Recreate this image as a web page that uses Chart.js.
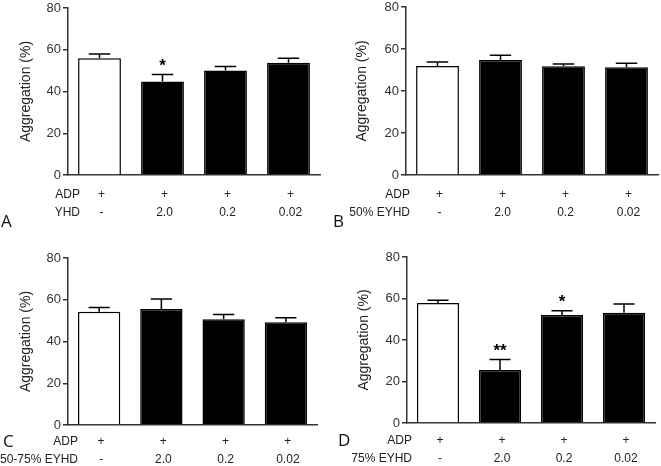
<!DOCTYPE html>
<html>
<head>
<meta charset="utf-8">
<script src="https://cdn.jsdelivr.net/npm/chart.js@4"></script>
<style>
  html, body { margin: 0; padding: 0; background: #fff; }
  #wrap { position: relative; width: 661px; height: 466px; }
  #wrap canvas { position: absolute; }
</style>
</head>
<body>
<div id="wrap">
  <canvas id="cA" width="330" height="233" style="left:0;top:0"></canvas>
  <canvas id="cB" width="331" height="233" style="left:330px;top:0"></canvas>
  <canvas id="cC" width="330" height="233" style="left:0;top:233px"></canvas>
  <canvas id="cD" width="331" height="233" style="left:330px;top:233px"></canvas>
</div>
<script>
// tick rows under the bars
const adpRow = ['+', '+', '+', '+'];
const doseRow = ['-', '2.0', '0.2', '0.02'];
const yTicks = [0, 20, 40, 60, 80];

// mean and SEM per panel
const valuesA = [55.9, 44.8, 50.1, 53.8];
const errA = [2.1, 3.4, 1.9, 2.1];
const starsA = ['', '*', '', ''];

const valuesB = [51.9, 54.8, 51.8, 51.3];
const errB = [1.9, 2.2, 1.1, 1.9];
const starsB = ['', '', '', ''];

const valuesC = [54.3, 55.6, 50.7, 49.2];
const errC = [2.0, 4.7, 2.2, 2.2];
const starsC = ['', '', '', ''];

const valuesD = [57.8, 25.6, 52.1, 53.1];
const errD = [1.4, 5.0, 2.0, 4.2];
const starsD = ['', '**', '*', ''];

const barColors = ['#ffffff', '#000000', '#000000', '#000000'];
const FONT = 'Liberation Sans, Arial, sans-serif';

const panels = [
  { id: 'cA', letter: 'A', rowTitle: 'YHD', values: valuesA, err: errA, stars: starsA,
    top: 8, bottom: 175, left: 68, right: 320, tickPad: 11, titlePad: 19, rowRight: 80, letterX: 1, letterY: 222 },
  { id: 'cB', letter: 'B', rowTitle: '50% EYHD', values: valuesB, err: errB, stars: starsB,
    top: 7, bottom: 175, left: 76, right: 328, tickPad: 11, titlePad: 25, rowRight: 80, letterX: 3, letterY: 222 },
  { id: 'cC', letter: 'C', rowTitle: '50-75% EYHD', values: valuesC, err: errC, stars: starsC,
    top: 25, bottom: 192, left: 68, right: 317, tickPad: 8, titlePad: 19, rowRight: 78, letterX: 3, letterY: 209 },
  { id: 'cD', letter: 'D', rowTitle: '75% EYHD', values: valuesD, err: errD, stars: starsD,
    top: 24, bottom: 190, left: 77, right: 325, tickPad: 9, titlePad: 27, rowRight: 82, letterX: 8, letterY: 208 }
];

const extras = {
  id: 'extras',
  afterDatasetsDraw(chart) {
    const p = chart.options.plugins.extras;
    const ctx = chart.ctx;
    const y = chart.scales.y;
    const meta = chart.getDatasetMeta(0);
    ctx.save();
    ctx.strokeStyle = '#000';
    ctx.lineWidth = 1.5;
    meta.data.forEach((bar, i) => {
      const top = y.getPixelForValue(p.values[i] + p.err[i]);
      const half = bar.width / 4;
      ctx.beginPath();
      ctx.moveTo(bar.x, bar.y);
      ctx.lineTo(bar.x, top);
      ctx.moveTo(bar.x - half, top);
      ctx.lineTo(bar.x + half, top);
      ctx.stroke();
      if (p.stars[i]) {
        ctx.fillStyle = '#000';
        ctx.font = 'bold 17px ' + FONT;
        ctx.textAlign = 'center';
        ctx.textBaseline = 'middle';
        ctx.fillText(p.stars[i], bar.x, top - 8);
      }
    });
    ctx.restore();
  },
  afterDraw(chart) {
    const p = chart.options.plugins.extras;
    const ctx = chart.ctx;
    const b = chart.chartArea.bottom;
    ctx.save();
    ctx.fillStyle = '#222';
    ctx.font = '12px ' + FONT;
    ctx.textAlign = 'right';
    ctx.textBaseline = 'middle';
    ctx.fillText('ADP', p.rowRight, b + p.tickPad + 9);
    ctx.fillText(p.rowTitle, p.rowRight, b + p.tickPad + 27);
    ctx.font = '17px Open Sans, sans-serif';
    ctx.textAlign = 'left';
    ctx.fillStyle = '#111';
    ctx.fillText(p.letter, p.letterX, p.letterY);
    ctx.restore();
  }
};

panels.forEach(p => {
  const canvas = document.getElementById(p.id);
  const H = canvas.height;
  new Chart(canvas, {
    type: 'bar',
    data: {
      labels: adpRow.map((a, i) => [a, doseRow[i]]),
      datasets: [{
        data: p.values,
        backgroundColor: barColors,
        borderColor: '#000',
        borderWidth: 1.5,
        categoryPercentage: 1,
        barPercentage: 0.68
      }]
    },
    options: {
      responsive: false,
      animation: false,
      layout: { padding: { top: p.top, right: canvas.width - p.right, left: 0, bottom: 0 } },
      plugins: { legend: { display: false }, tooltip: { enabled: false }, extras: p },
      scales: {
        x: {
          grid: { display: false, drawTicks: false },
          border: { display: true, color: '#333', width: 1.5 },
          ticks: { color: '#222', font: { family: FONT, size: 12, lineHeight: 1.5 }, padding: p.tickPad, maxRotation: 0, labelOffset: 2 },
          afterFit(s) { s.height = H - p.bottom; s.paddingLeft = 0; s.paddingRight = 0; }
        },
        y: {
          min: 0, max: 80,
          afterBuildTicks(s) { s.ticks = yTicks.map(v => ({ value: v })); },
          grid: { drawOnChartArea: false, drawTicks: true, tickLength: 5, color: '#333', lineWidth: 1.5 },
          border: { display: true, color: '#333', width: 1.5 },
          ticks: { color: '#333', font: { family: FONT, size: 13 }, padding: 2 },
          title: { display: true, text: 'Aggregation (%)', color: '#222', font: { family: FONT, size: 14 }, padding: { top: p.titlePad - 1, bottom: 0 } },
          afterFit(s) { s.width = p.left; s.paddingTop = 0; s.paddingBottom = 0; }
        }
      }
    },
    plugins: [extras]
  });
});
</script>
</body>
</html>
